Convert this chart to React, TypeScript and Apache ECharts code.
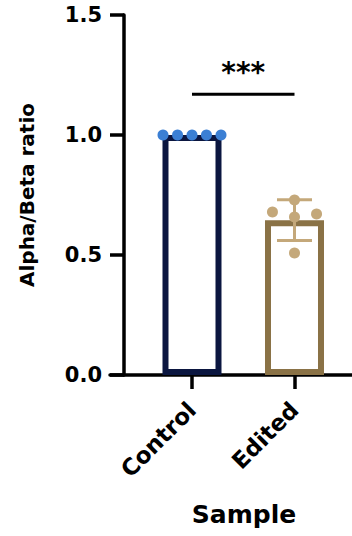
import React, { useEffect, useRef } from 'react';
import * as echarts from 'echarts';

const categories = ['Control', 'Edited'];
const barMeans = [1.0, 0.645];
const editedSD = 0.085;
const controlPoints = [
  [-0.283, 1.0],
  [-0.141, 1.0],
  [0, 1.0],
  [0.141, 1.0],
  [0.283, 1.0],
];
const editedPoints = [
  [0.785, 0.679],
  [1, 0.729],
  [1, 0.658],
  [1.215, 0.671],
  [1, 0.508],
];
const yTickLabels = ['0.0', '0.5', '1.0', '1.5'];
const sigLevel = 1.17;
const sigLabel = '***';
const yName = 'Alpha/Beta ratio';
const xName = 'Sample';

const FONT = '"DejaVu Sans", "Liberation Sans", Arial, sans-serif';
const NAVY = '#0b1640';
const BROWN = '#8a7246';
const TAN = '#c4a87a';
const BLUE = '#3b7fd4';

export default function App() {
  const ref = useRef<HTMLDivElement>(null);
  useEffect(() => {
    if (!ref.current) return;
    const chart = echarts.init(ref.current, undefined, { renderer: 'svg' });
    const option: any = {
      animation: false,
      backgroundColor: '#ffffff',
      grid: { left: 110, right: 0, top: 15, bottom: 161 },
      xAxis: {
        type: 'value',
        min: -0.8,
        max: 1.561,
        name: xName,
        nameLocation: 'middle',
        nameGap: 127,
        nameTextStyle: {
          fontFamily: FONT,
          fontWeight: 'bold',
          fontSize: 25,
          color: '#000',
          padding: [0, 0, 0, 26],
        },
        axisLine: { show: true, onZero: false, lineStyle: { color: '#000', width: 3.5 } },
        axisTick: { show: true, customValues: [0, 1], length: 14, lineStyle: { color: '#000', width: 3.5 } },
        axisLabel: {
          customValues: [0, 1],
          formatter: (v: number) => categories[Math.round(v)] ?? '',
          rotate: 45,
          margin: 31,
          fontFamily: FONT,
          fontWeight: 'bold',
          fontSize: 23,
          color: '#000',
        },
        splitLine: { show: false },
      },
      yAxis: {
        type: 'value',
        min: 0,
        max: 1.5,
        interval: 0.5,
        offset: -14,
        name: yName,
        nameLocation: 'middle',
        nameGap: 87,
        nameTextStyle: { fontFamily: FONT, fontWeight: 'bold', fontSize: 20, color: '#000' },
        axisLine: { show: true, onZero: false, lineStyle: { color: '#000', width: 3.5 } },
        axisTick: { show: true, length: 14, lineStyle: { color: '#000', width: 3.5 } },
        axisLabel: {
          formatter: (v: number) => yTickLabels[Math.round(v / 0.5)] ?? '',
          margin: 22,
          fontFamily: FONT,
          fontWeight: 'bold',
          fontSize: 21,
          color: '#000',
        },
        splitLine: { show: false },
      },
      series: [
        {
          type: 'bar',
          barWidth: 59,
          data: [
            { value: [0, barMeans[0]], itemStyle: { color: '#fff', borderColor: NAVY, borderWidth: 6 } },
            { value: [1, barMeans[1]], itemStyle: { color: '#fff', borderColor: BROWN, borderWidth: 6 } },
          ],
          z: 2,
        },
        {
          type: 'custom',
          z: 3,
          data: [[1, barMeans[1], editedSD]],
          renderItem: (params: any, api: any) => {
            const x = api.value(0);
            const m = api.value(1);
            const s = api.value(2);
            const top = api.coord([x, m + s]);
            const bot = api.coord([x, m - s]);
            const half = 17.5;
            const style = { stroke: TAN, lineWidth: 3 };
            return {
              type: 'group',
              children: [
                { type: 'line', shape: { x1: top[0], y1: top[1], x2: bot[0], y2: bot[1] }, style },
                { type: 'line', shape: { x1: top[0] - half, y1: top[1], x2: top[0] + half, y2: top[1] }, style },
                { type: 'line', shape: { x1: bot[0] - half, y1: bot[1], x2: bot[0] + half, y2: bot[1] }, style },
              ],
            };
          },
        },
        {
          type: 'scatter',
          z: 4,
          symbolSize: 11,
          itemStyle: { color: BLUE, opacity: 1 },
          data: controlPoints,
        },
        {
          type: 'scatter',
          z: 4,
          symbolSize: 11,
          itemStyle: { color: TAN, opacity: 1 },
          data: editedPoints,
        },
        {
          type: 'custom',
          z: 5,
          clip: false,
          data: [[0, 1, sigLevel]],
          renderItem: (params: any, api: any) => {
            const p1 = api.coord([api.value(0), api.value(2)]);
            const p2 = api.coord([api.value(1), api.value(2)]);
            return {
              type: 'group',
              children: [
                {
                  type: 'line',
                  shape: { x1: p1[0], y1: p1[1], x2: p2[0], y2: p2[1] },
                  style: { stroke: '#000', lineWidth: 3 },
                },
                {
                  type: 'text',
                  style: {
                    text: sigLabel,
                    x: (p1[0] + p2[0]) / 2,
                    y: p1[1] - 8,
                    align: 'center',
                    verticalAlign: 'bottom',
                    fontFamily: FONT,
                    fontWeight: 'bold',
                    fontSize: 28,
                    fill: '#000',
                  },
                },
              ],
            };
          },
        },
      ],
    };
    chart.setOption(option);
    return () => chart.dispose();
  }, []);
  return (
    <div
      ref={ref}
      style={{ position: 'fixed', left: 0, top: 0, width: 352, height: 536, background: '#fff' }}
    />
  );
}
